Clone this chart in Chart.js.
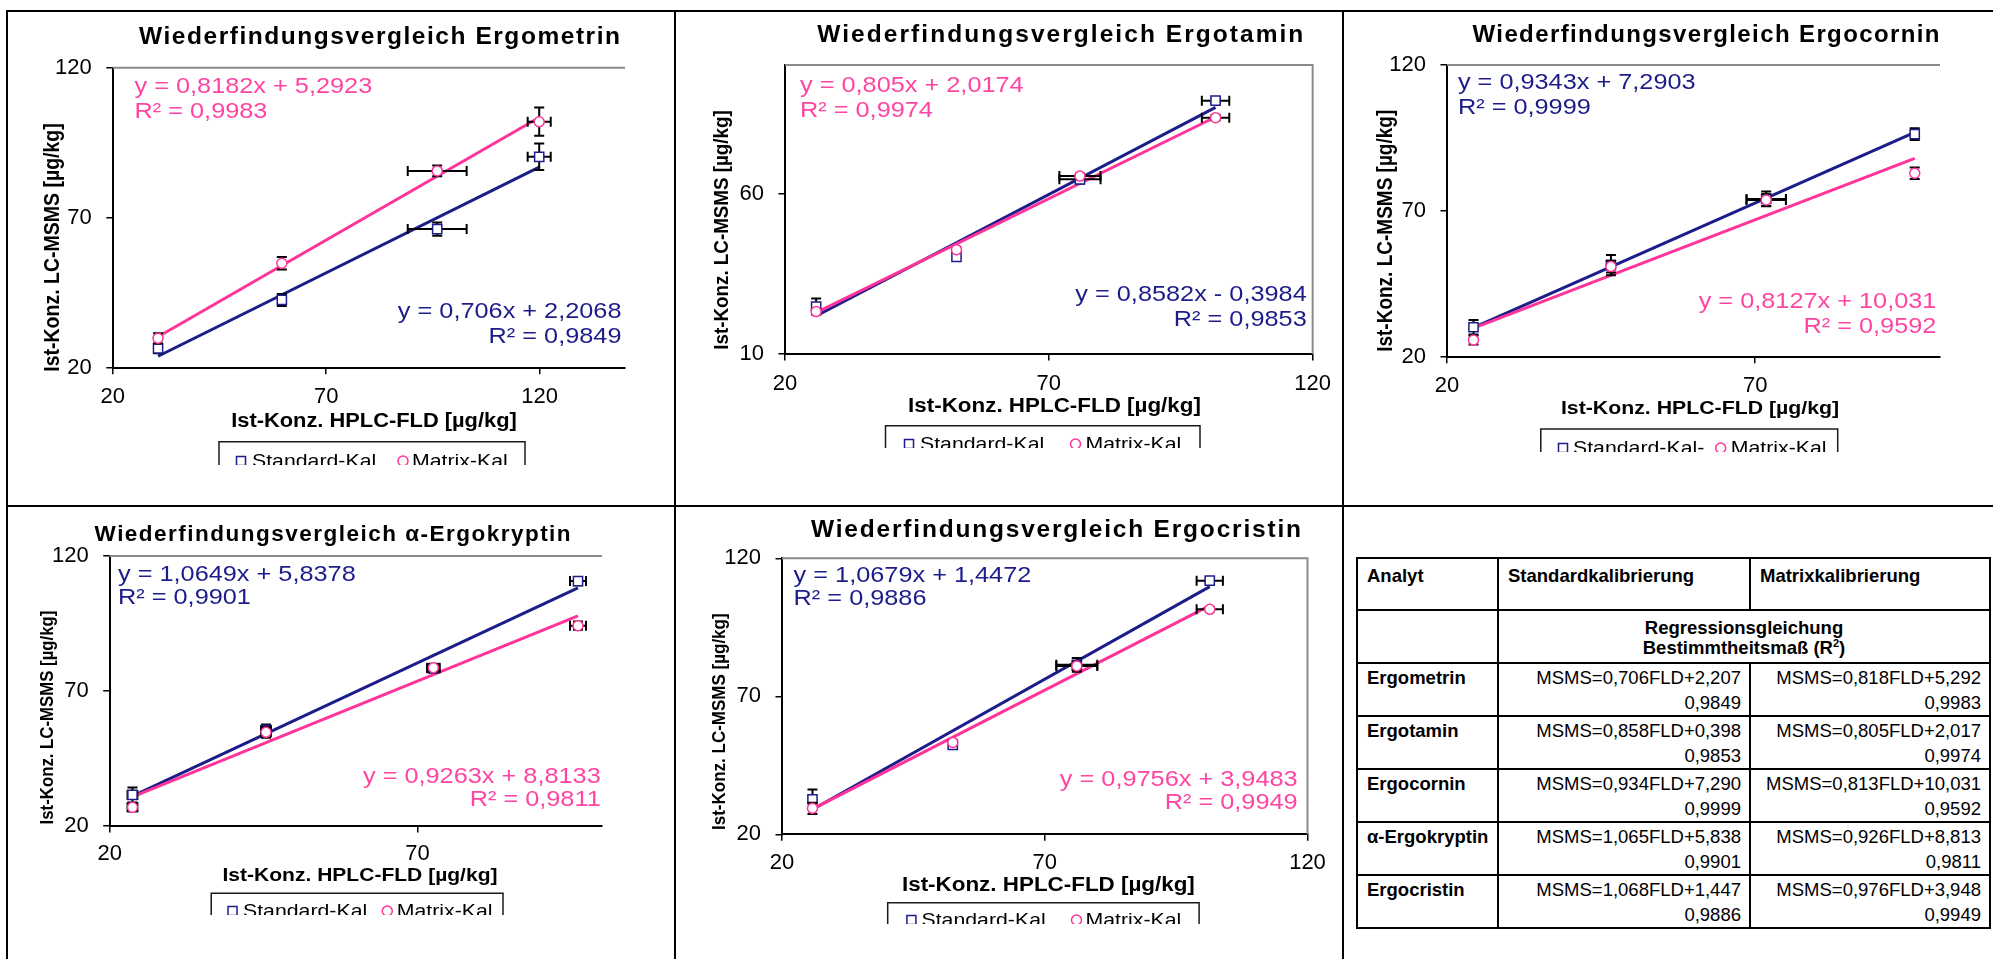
<!DOCTYPE html>
<html lang="de">
<head>
<meta charset="utf-8">
<title>Wiederfindungsvergleich LC-MSMS / HPLC-FLD</title>
<script src="https://cdn.jsdelivr.net/npm/chart.js@4.4.1/dist/chart.umd.min.js"></script>
<style>
  html, body { margin: 0; padding: 0; background: #fff; }
  body { position: relative; width: 1993px; height: 959px; overflow: hidden;
         font-family: "Liberation Sans", Arial, sans-serif; }
  .rule { position: absolute; background: #000; }
  canvas { position: absolute; }
  #fitTable { position: absolute; left: 1356px; top: 557px; width: 633px;
              border-collapse: collapse; table-layout: fixed; font-size: 18.5px; color: #000; }
  #fitTable td { border: 2px solid #000; padding: 0; vertical-align: top; overflow: hidden; }
  #fitTable .hd { font-weight: bold; line-height: 21px; padding: 6px 0 0 9px; }
  #fitTable .merged { font-weight: bold; text-align: center; line-height: 20px; padding-top: 7px; }
  #fitTable .name { font-weight: bold; line-height: 25px; padding: 1px 0 0 9px; }
  #fitTable .val { text-align: right; line-height: 25px; padding: 1px 8px 0 0; }
  #fitTable sup { font-size: 11px; line-height: 0; }
</style>
</head>
<body>
<div class="rule" style="left:6px; top:10px; width:1987px; height:2px"></div>
<div class="rule" style="left:6px; top:10px; width:2px; height:949px"></div>
<div class="rule" style="left:674px; top:10px; width:2px; height:949px"></div>
<div class="rule" style="left:1342px; top:10px; width:2px; height:949px"></div>
<div class="rule" style="left:6px; top:505px; width:1987px; height:2px"></div>
<table id="fitTable"></table>
<script>
// ---- measured concentrations [µg/kg] ----
// x: HPLC-FLD reference, y: LC-MSMS with standard / matrix calibration, *Sd: error bars

const ergometrinFld   = [30.6, 59.6, 96.0, 119.9];
const ergometrinFldSd = [0, 0, 6.9, 2.7];
const ergometrinStd   = [26.4, 42.6, 66.2, 90.3];
const ergometrinStdSd = [1.6, 2.0, 2.2, 4.4];
const ergometrinMat   = [29.8, 54.8, 85.6, 102.0];
const ergometrinMatSd = [1.7, 2.1, 1.8, 4.7];
const ergometrinFitStd = [0.706, 2.2068, 0.9849];   // slope, intercept, R²
const ergometrinFitMat = [0.8182, 5.2923, 0.9983];

const ergotaminFld   = [25.9, 52.5, 75.9, 101.6];
const ergotaminFldSd = [0, 0, 3.9, 2.6];
const ergotaminStd   = [24.8, 40.2, 64.4, 88.9];
const ergotaminStdSd = [2.5, 0, 1.3, 0.8];
const ergotaminMat   = [23.2, 42.5, 65.4, 83.6];
const ergotaminMatSd = [0.8, 0.6, 0.8, 0.8];
const ergotaminFitStd = [0.8582, -0.3984, 0.9853];
const ergotaminFitMat = [0.805, 2.0174, 0.9974];

const ergocorninFld   = [24.3, 46.6, 71.8, 95.9];
const ergocorninFldSd = [0, 0, 3.2, 0];
const ergocorninStd   = [30.1, 51.4, 74.1, 96.3];
const ergocorninStdSd = [2.5, 3.5, 2.5, 2.0];
const ergocorninMat   = [25.7, 50.9, 73.7, 82.9];
const ergocorninMatSd = [1.5, 2.0, 2.0, 2.0];
const ergocorninFitStd = [0.9343, 7.2903, 0.9999];
const ergocorninFitMat = [0.8127, 10.031, 0.9592];

const ergokryptinFld   = [23.7, 45.4, 72.6, 96.1];
const ergokryptinFldSd = [0.8, 0.8, 1.0, 1.3];
const ergokryptinStd   = [31.5, 55.6, 78.4, 110.7];
const ergokryptinStdSd = [2.8, 2.0, 1.5, 1.5];
const ergokryptinMat   = [26.9, 54.7, 78.6, 94.2];
const ergokryptinMatSd = [1.5, 2.0, 1.5, 1.5];
const ergokryptinFitStd = [1.0649, 5.8378, 0.9901];
const ergokryptinFitMat = [0.9263, 8.8133, 0.9811];

const ergocristinFld   = [25.8, 52.5, 76.1, 101.4];
const ergocristinFldSd = [0.5, 0, 3.9, 2.5];
const ergocristinStd   = [32.7, 52.4, 81.4, 111.9];
const ergocristinStdSd = [3.5, 1.0, 2.5, 0.8];
const ergocristinMat   = [29.4, 53.3, 81.0, 101.5];
const ergocristinMatSd = [2.0, 0.8, 1.5, 0.8];
const ergocristinFitStd = [1.0679, 1.4472, 0.9886];
const ergocristinFitMat = [0.9756, 3.9483, 0.9949];

// axis ticks
const ticks20to120 = [20, 70, 120];
const ticks20to70 = [20, 70];
const ticks10to60 = [10, 60];

// summary table
const tableHead = ['Analyt', 'Standardkalibrierung', 'Matrixkalibrierung'];
const tableAnalytes = ['Ergometrin', 'Ergotamin', 'Ergocornin', 'α-Ergokryptin', 'Ergocristin'];
const tableStdEq = ['MSMS=0,706FLD+2,207', 'MSMS=0,858FLD+0,398', 'MSMS=0,934FLD+7,290', 'MSMS=1,065FLD+5,838', 'MSMS=1,068FLD+1,447'];
const tableStdR2 = ['0,9849', '0,9853', '0,9999', '0,9901', '0,9886'];
const tableMatEq = ['MSMS=0,818FLD+5,292', 'MSMS=0,805FLD+2,017', 'MSMS=0,813FLD+10,031', 'MSMS=0,926FLD+8,813', 'MSMS=0,976FLD+3,948'];
const tableMatR2 = ['0,9983', '0,9974', '0,9592', '0,9811', '0,9949'];

const FONT = '"Liberation Sans", Arial, sans-serif';
const NAVY = '#1c1c8a';
const PINK = '#ff3399';
const PINK_TEXT = '#ff45a2';
const CAP = 5;

function fmt(v) { return String(v).replace('.', ','); }

function eqLines(fit) {
    const [m, b, r2] = fit;
    return ['y = ' + fmt(m) + 'x ' + (b < 0 ? '- ' : '+ ') + fmt(Math.abs(b)), 'R² = ' + fmt(r2)];
}

function trend(fit, xs) {
    const lo = Math.min(...xs), hi = Math.max(...xs);
    return [{ x: lo, y: fit[0] * lo + fit[1] }, { x: hi, y: fit[0] * hi + fit[1] }];
}

function points(xs, ys) { return xs.map((x, i) => ({ x: x, y: ys[i] })); }

// text drawn slightly wider than the font, like the stretched chart objects
function stretched(ctx, text, x, y, align, sx) {
    ctx.save();
    ctx.translate(x, y);
    ctx.scale(sx, 1);
    ctx.textAlign = align;
    ctx.fillText(text, 0, 0);
    ctx.restore();
}

// bold heading spread out to a given width with letter spacing
function spaced(ctx, text, x, y, width) {
    ctx.save();
    ctx.textAlign = 'center';
    const natural = ctx.measureText(text).width;
    if ('letterSpacing' in ctx) {
        const gap = Math.max(0, (width - natural) / (text.length - 1));
        ctx.letterSpacing = gap + 'px';
        ctx.fillText(text, x + gap / 2, y);
    } else {
        ctx.translate(x, y);
        ctx.scale(width / natural, 1);
        ctx.fillText(text, 0, 0);
    }
    ctx.restore();
}

const errorBars = {
    id: 'errorBars',
    beforeDatasetDraw(chart, args) {
        const ds = chart.data.datasets[args.index];
        if (!ds.yErr) return;
        const { ctx, scales: { x, y } } = chart;
        ctx.save();
        ctx.strokeStyle = '#000';
        ctx.lineWidth = 2;
        ctx.beginPath();
        ds.data.forEach((p, i) => {
            const px = x.getPixelForValue(p.x), py = y.getPixelForValue(p.y);
            const ey = ds.yErr[i], ex = ds.xErr[i];
            if (ey > 0) {
                const y0 = y.getPixelForValue(p.y - ey), y1 = y.getPixelForValue(p.y + ey);
                ctx.moveTo(px, y0); ctx.lineTo(px, y1);
                ctx.moveTo(px - CAP, y0); ctx.lineTo(px + CAP, y0);
                ctx.moveTo(px - CAP, y1); ctx.lineTo(px + CAP, y1);
            }
            if (ex > 0) {
                const x0 = x.getPixelForValue(p.x - ex), x1 = x.getPixelForValue(p.x + ex);
                ctx.moveTo(x0, py); ctx.lineTo(x1, py);
                ctx.moveTo(x0, py - CAP); ctx.lineTo(x0, py + CAP);
                ctx.moveTo(x1, py - CAP); ctx.lineTo(x1, py + CAP);
            }
        });
        ctx.stroke();
        ctx.restore();
    }
};

const plotFrame = {
    id: 'plotFrame',
    beforeDatasetsDraw(chart, args, opts) {
        const { ctx, chartArea: a } = chart;
        ctx.save();
        ctx.strokeStyle = '#8a8a8a';
        ctx.lineWidth = 2;
        ctx.beginPath();
        ctx.moveTo(a.left, a.top);
        ctx.lineTo(a.right, a.top);
        if (opts.box) ctx.lineTo(a.right, a.bottom);
        ctx.stroke();
        ctx.restore();
    }
};

// title, axis titles, regression labels and the (cropped) legend box
const panelText = {
    id: 'panelText',
    afterDraw(chart, args, o) {
        const ctx = chart.ctx;
        const ox = o.origin[0], oy = o.origin[1];
        ctx.save();
        ctx.textBaseline = 'middle';
        ctx.fillStyle = '#000';
        ctx.font = 'bold ' + o.title.size + 'px ' + FONT;
        spaced(ctx, o.title.text, o.title.x - ox, o.title.y - oy, o.title.w);

        ctx.font = 'bold ' + o.xTitle.size + 'px ' + FONT;
        stretched(ctx, o.xTitle.text, o.xTitle.x - ox, o.xTitle.y - oy, 'center', 1.12);

        ctx.save();
        ctx.font = 'bold ' + o.yTitle.size + 'px ' + FONT;
        ctx.translate(o.yTitle.x - ox, o.yTitle.y - oy);
        ctx.rotate(-Math.PI / 2);
        ctx.scale(1, 1.12);
        ctx.textAlign = 'center';
        ctx.fillText(o.yTitle.text, 0, 0);
        ctx.restore();

        ctx.font = '22px ' + FONT;
        o.equations.forEach(eq => {
            ctx.fillStyle = eq.color;
            eq.lines.forEach((line, i) => {
                stretched(ctx, line, eq.x - ox, eq.y - oy + i * eq.gap, eq.align, 1.15);
            });
        });

        const lg = o.legend;
        const bottom = chart.height + 2;
        ctx.strokeStyle = '#1a1a1a';
        ctx.lineWidth = 1.5;
        ctx.beginPath();
        ctx.moveTo(lg.left - ox, bottom);
        ctx.lineTo(lg.left - ox, lg.top - oy);
        ctx.lineTo(lg.right - ox, lg.top - oy);
        ctx.lineTo(lg.right - ox, bottom);
        ctx.stroke();

        const series = chart.data.datasets.filter(d => d.yErr);
        ctx.font = '19px ' + FONT;
        ctx.textBaseline = 'alphabetic';
        series.forEach((ds, i) => {
            const mx = lg.markers[i] - ox, my = chart.height - 4;
            ctx.strokeStyle = ds.pointBorderColor;
            ctx.fillStyle = '#fff';
            ctx.lineWidth = 1.5;
            ctx.beginPath();
            if (ds.pointStyle === 'rect') ctx.rect(mx - 4.5, my - 4.5, 9, 9);
            else ctx.arc(mx, my, 5, 0, Math.PI * 2);
            ctx.fill();
            ctx.stroke();
            ctx.fillStyle = '#000';
            stretched(ctx, ds.label, lg.texts[i] - ox, chart.height + 1.5, 'left', 1.12);
        });
        ctx.restore();
    }
};

function buildPanel(p) {
    const c = p.canvas, a = p.plot;
    const el = document.createElement('canvas');
    el.width = c.w;
    el.height = c.h;
    el.style.left = c.x + 'px';
    el.style.top = c.y + 'px';
    document.body.appendChild(el);

    const tickFont = { family: FONT, size: 22 };
    const grid = { drawOnChartArea: false, drawTicks: true, tickLength: 6.5, color: '#000', lineWidth: 1.5 };
    const border = { display: true, color: '#000', width: 2 };
    const stdEq = { lines: eqLines(p.fitStd), color: NAVY, ...p.stdEqPos, gap: p.eqGap };
    const matEq = { lines: eqLines(p.fitMat), color: PINK_TEXT, ...p.matEqPos, gap: p.eqGap };

    new Chart(el.getContext('2d'), {
        type: 'scatter',
        data: {
            datasets: [
                { data: trend(p.fitStd, p.fld), showLine: true, borderColor: NAVY, borderWidth: 3, pointRadius: 0, order: 4 },
                { data: trend(p.fitMat, p.fld), showLine: true, borderColor: PINK, borderWidth: 3, pointRadius: 0, order: 3 },
                {
                    label: p.stdLabel, data: points(p.fld, p.std), xErr: p.fldSd, yErr: p.stdSd,
                    pointStyle: 'rect', pointRadius: 6.5, pointBorderWidth: 1.5,
                    borderColor: NAVY, pointBorderColor: NAVY, pointBackgroundColor: '#fff', order: 2
                },
                {
                    label: 'Matrix-Kal.', data: points(p.fld, p.mat), xErr: p.fldSd, yErr: p.matSd,
                    pointStyle: 'circle', pointRadius: 5, pointBorderWidth: 1.5,
                    borderColor: PINK, pointBorderColor: PINK, pointBackgroundColor: '#fff', order: 1
                }
            ]
        },
        options: {
            responsive: false,
            animation: false,
            devicePixelRatio: 1,
            events: [],
            layout: { padding: { left: 0, bottom: 0, top: a.t - c.y, right: c.x + c.w - a.r } },
            plugins: {
                legend: { display: false },
                tooltip: { enabled: false },
                plotFrame: { box: p.box },
                panelText: {
                    origin: [c.x, c.y],
                    title: p.title, xTitle: p.xTitle, yTitle: p.yTitle,
                    equations: [stdEq, matEq],
                    legend: p.legend
                }
            },
            scales: {
                x: {
                    type: 'linear', min: p.xRange[0], max: p.xRange[1],
                    afterBuildTicks: s => { s.ticks = p.xTicks.map(v => ({ value: v })); },
                    afterFit: s => { s.height = c.y + c.h - a.b; },
                    ticks: { font: tickFont, color: '#000', padding: p.xPad, autoSkip: false, maxRotation: 0 },
                    grid: grid, border: border
                },
                y: {
                    type: 'linear', min: p.yRange[0], max: p.yRange[1],
                    afterBuildTicks: s => { s.ticks = p.yTicks.map(v => ({ value: v })); },
                    afterFit: s => { s.width = a.l - c.x; },
                    ticks: { font: tickFont, color: '#000', padding: 14.5, autoSkip: false },
                    grid: grid, border: border
                }
            }
        },
        plugins: [errorBars, plotFrame, panelText]
    });
}

const X_TITLE = 'Ist-Konz. HPLC-FLD [µg/kg]';
const Y_TITLE = 'Ist-Konz. LC-MSMS [µg/kg]';

const panels = [
    {
        fld: ergometrinFld, fldSd: ergometrinFldSd, std: ergometrinStd, stdSd: ergometrinStdSd,
        mat: ergometrinMat, matSd: ergometrinMatSd, fitStd: ergometrinFitStd, fitMat: ergometrinFitMat,
        stdLabel: 'Standard-Kal.',
        xRange: [20, 140], yRange: [20, 120], xTicks: ticks20to120, yTicks: ticks20to120, box: false,
        canvas: { x: 9, y: 13, w: 664, h: 452 }, plot: { l: 112.8, t: 67.7, r: 625, b: 367.7 }, xPad: 10,
        title: { text: 'Wiederfindungsvergleich Ergometrin', x: 379.5, y: 37.3, size: 24.5, w: 481 },
        xTitle: { text: X_TITLE, x: 374, y: 421.7, size: 19.5 },
        yTitle: { text: Y_TITLE, x: 53, y: 247.5, size: 19.5 },
        matEqPos: { x: 134.5, y: 86.7, align: 'left' }, stdEqPos: { x: 621.5, y: 311.7, align: 'right' }, eqGap: 25,
        legend: { left: 219, right: 525, top: 441.7, markers: [241, 403], texts: [252, 412] }
    },
    {
        fld: ergotaminFld, fldSd: ergotaminFldSd, std: ergotaminStd, stdSd: ergotaminStdSd,
        mat: ergotaminMat, matSd: ergotaminMatSd, fitStd: ergotaminFitStd, fitMat: ergotaminFitMat,
        stdLabel: 'Standard-Kal.',
        xRange: [20, 120], yRange: [10, 100], xTicks: ticks20to120, yTicks: ticks10to60, box: true,
        canvas: { x: 677, y: 13, w: 664, h: 435 }, plot: { l: 785, t: 65, r: 1316, b: 354 }, xPad: 10,
        title: { text: 'Wiederfindungsvergleich Ergotamin', x: 1060.3, y: 35.7, size: 24.5, w: 486 },
        xTitle: { text: X_TITLE, x: 1054.5, y: 406, size: 20 },
        yTitle: { text: Y_TITLE, x: 722, y: 230, size: 18.8 },
        matEqPos: { x: 800, y: 86, align: 'left' }, stdEqPos: { x: 1306.7, y: 295, align: 'right' }, eqGap: 24.7,
        legend: { left: 885.5, right: 1200, top: 425.7, markers: [909, 1075.5], texts: [920, 1085.5] }
    },
    {
        fld: ergocorninFld, fldSd: ergocorninFldSd, std: ergocorninStd, stdSd: ergocorninStdSd,
        mat: ergocorninMat, matSd: ergocorninMatSd, fitStd: ergocorninFitStd, fitMat: ergocorninFitMat,
        stdLabel: 'Standard-Kal-',
        xRange: [20, 100], yRange: [20, 120], xTicks: ticks20to70, yTicks: ticks20to120, box: false,
        canvas: { x: 1345, y: 13, w: 648, h: 439 }, plot: { l: 1447, t: 65, r: 1940, b: 356.7 }, xPad: 10,
        title: { text: 'Wiederfindungsvergleich Ergocornin', x: 1706, y: 35.7, size: 24, w: 467 },
        xTitle: { text: X_TITLE, x: 1700, y: 408.3, size: 19 },
        yTitle: { text: Y_TITLE, x: 1386.6, y: 230.8, size: 19 },
        stdEqPos: { x: 1457.9, y: 83.3, align: 'left' }, matEqPos: { x: 1936.4, y: 302.3, align: 'right' }, eqGap: 24.4,
        legend: { left: 1540.8, right: 1837.7, top: 429, markers: [1563, 1720.7], texts: [1573, 1730.7] }
    },
    {
        fld: ergokryptinFld, fldSd: ergokryptinFldSd, std: ergokryptinStd, stdSd: ergokryptinStdSd,
        mat: ergokryptinMat, matSd: ergokryptinMatSd, fitStd: ergokryptinFitStd, fitMat: ergokryptinFitMat,
        stdLabel: 'Standard-Kal.',
        xRange: [20, 100], yRange: [20, 120], xTicks: ticks20to70, yTicks: ticks20to120, box: false,
        canvas: { x: 9, y: 508, w: 664, h: 407 }, plot: { l: 109.7, t: 556, r: 602, b: 826 }, xPad: 8,
        title: { text: 'Wiederfindungsvergleich α-Ergokryptin', x: 332.6, y: 535, size: 22.5, w: 476 },
        xTitle: { text: X_TITLE, x: 360, y: 875.7, size: 18.8 },
        yTitle: { text: Y_TITLE, x: 47.7, y: 717.5, size: 16.8 },
        stdEqPos: { x: 118, y: 575, align: 'left' }, matEqPos: { x: 600.7, y: 776.7, align: 'right' }, eqGap: 23.3,
        legend: { left: 211.2, right: 503, top: 893.3, markers: [232.5, 387.3], texts: [243, 396.8] }
    },
    {
        fld: ergocristinFld, fldSd: ergocristinFldSd, std: ergocristinStd, stdSd: ergocristinStdSd,
        mat: ergocristinMat, matSd: ergocristinMatSd, fitStd: ergocristinFitStd, fitMat: ergocristinFitMat,
        stdLabel: 'Standard-Kal.',
        xRange: [20, 120], yRange: [20, 120], xTicks: ticks20to120, yTicks: ticks20to120, box: true,
        canvas: { x: 677, y: 508, w: 664, h: 416 }, plot: { l: 782, t: 558.3, r: 1307.5, b: 834.3 }, xPad: 8.5,
        title: { text: 'Wiederfindungsvergleich Ergocristin', x: 1056, y: 530.7, size: 24.5, w: 490 },
        xTitle: { text: X_TITLE, x: 1048.4, y: 885, size: 20 },
        yTitle: { text: Y_TITLE, x: 719.9, y: 721.7, size: 17 },
        stdEqPos: { x: 793.6, y: 576, align: 'left' }, matEqPos: { x: 1297.6, y: 780, align: 'right' }, eqGap: 23.3,
        legend: { left: 887.7, right: 1199.1, top: 902.7, markers: [911.4, 1076.5], texts: [921.5, 1085.5] }
    }
];

panels.forEach(buildPanel);

// regression summary table
function buildTable() {
    const t = document.getElementById('fitTable');
    let html = '<colgroup><col style="width:141px"><col style="width:252px"><col style="width:240px"></colgroup>';
    html += '<tr style="height:52px">' + tableHead.map(h => '<td class="hd">' + h + '</td>').join('') + '</tr>';
    html += '<tr style="height:53px"><td></td><td colspan="2" class="merged">Regressionsgleichung<br>Bestimmtheitsmaß (R<sup>2</sup>)</td></tr>';
    tableAnalytes.forEach((name, i) => {
        html += '<tr style="height:51px"><td class="name">' + name + '</td>' +
            '<td class="val">' + tableStdEq[i] + '<br>' + tableStdR2[i] + '</td>' +
            '<td class="val">' + tableMatEq[i] + '<br>' + tableMatR2[i] + '</td></tr>';
    });
    t.innerHTML = html;
}
buildTable();
</script>
</body>
</html>
